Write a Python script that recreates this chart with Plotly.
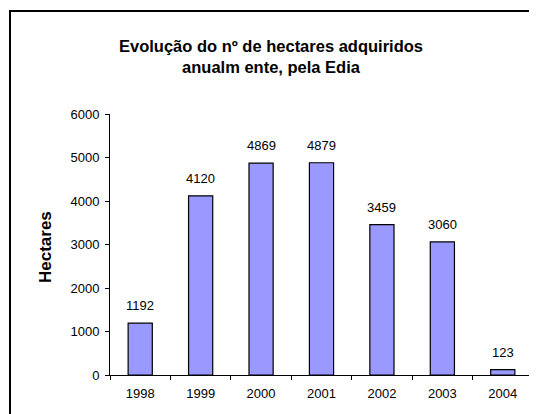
import plotly.graph_objects as go

years = ["1998", "1999", "2000", "2001", "2002", "2003", "2004"]
hectares = [1192, 4120, 4869, 4879, 3459, 3060, 123]
y_ticks = [0, 1000, 2000, 3000, 4000, 5000, 6000]

# page body has an 8px margin; figure coordinates are page coords minus 8
W, H = 529, 406
L, R, T, B = 102, 4, 106, 39
pw, ph = W - L - R, H - T - B

def px_x(x):
    return (x - L) / pw

def px_y(y):
    return (H - B - y) / ph

fig = go.Figure(go.Bar(
    x=years, y=hectares,
    marker=dict(color="#9999FF", line=dict(color="black", width=1.2)),
    width=0.4,
))

# category axis: annotation x given as category index
annotations = [dict(
    x=i, y=v, xref="x", yref="y", text=str(v), showarrow=False,
    yanchor="bottom", yshift=8,
    font=dict(family="Arial", size=13, color="black"),
) for i, v in enumerate(hectares)]

annotations.append(dict(
    text="<b>Hectares</b>", textangle=-90, showarrow=False,
    xref="paper", yref="paper", x=px_x(37), y=px_y(239),
    xanchor="center", yanchor="middle",
    font=dict(family="Arial", size=17, color="black"),
))

fig.update_layout(
    width=W, height=H, autosize=False,
    margin=dict(l=L, r=R, t=T, b=B),
    paper_bgcolor="white", plot_bgcolor="white",
    showlegend=False,
    font=dict(family="Arial", size=13, color="black"),
    title=dict(
        text="<b>Evolução do nº de hectares adquiridos<br>anualm ente, pela Edia</b>",
        x=263 / W, xanchor="center", xref="container",
        y=1 - 44 / H, yanchor="middle", yref="container",
        font=dict(family="Arial", size=16.5, color="black"),
    ),
    xaxis=dict(
        type="category", range=[-0.5, len(years) - 0.5],
        showline=True, linecolor="black", linewidth=1,
        ticks="outside", tickson="boundaries", ticklen=4, tickcolor="black",
        tickfont=dict(family="Arial", size=13), showgrid=False,
        ticklabelstandoff=6,
    ),
    yaxis=dict(
        range=[0, 6000], tickvals=y_ticks, showline=True, linecolor="black",
        linewidth=1, ticks="outside", ticklen=4, tickcolor="black",
        tickfont=dict(family="Arial", size=13), showgrid=False, zeroline=False,
        ticklabelstandoff=3,
    ),
    annotations=annotations,
    shapes=[dict(
        type="rect", xref="paper", yref="paper",
        x0=px_x(2), x1=px_x(540), y0=px_y(420), y1=px_y(3),
        line=dict(color="black", width=2), fillcolor="rgba(0,0,0,0)",
        layer="below",
    )],
)

fig.write_html("out.html")
